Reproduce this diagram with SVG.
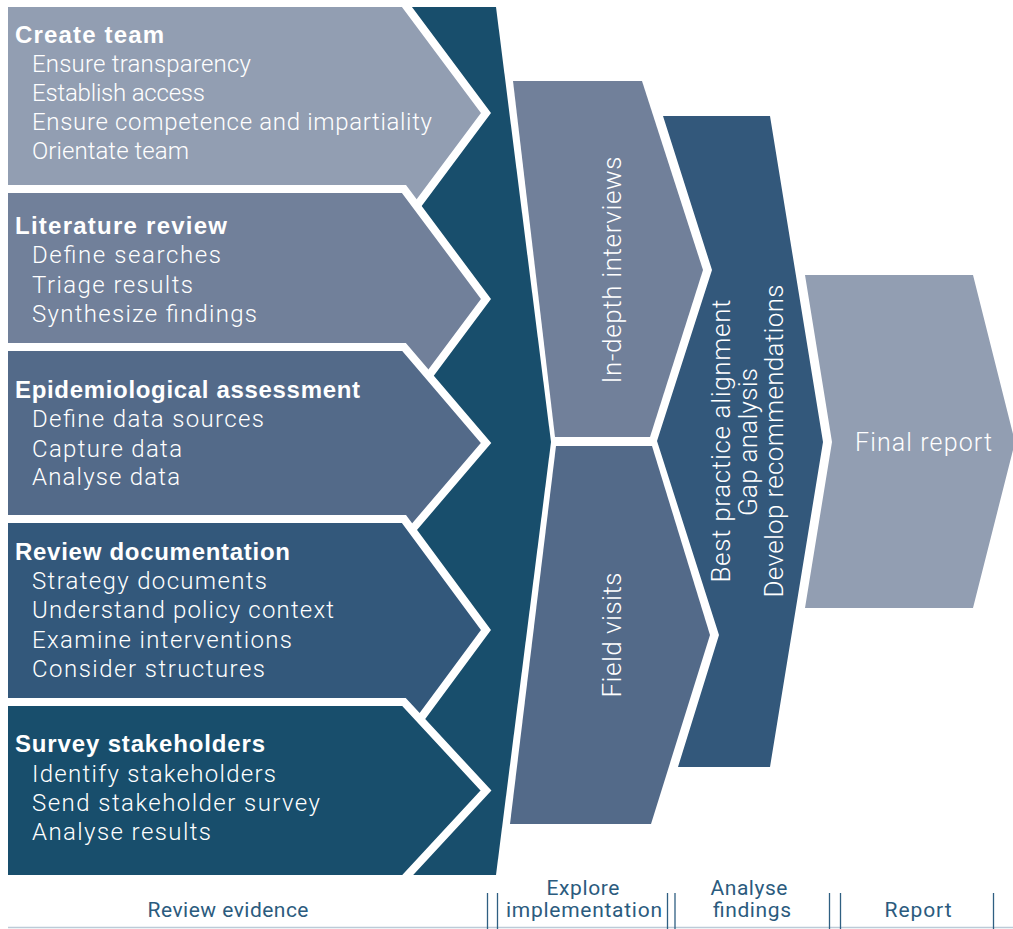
<svg xmlns="http://www.w3.org/2000/svg" width="1013" height="929" viewBox="0 0 1013 929">
<style>
.chev{stroke:#ffffff;stroke-width:8;stroke-linejoin:miter;stroke-miterlimit:10}
.hd{font-family:'Liberation Sans',Arial,sans-serif;font-weight:700;font-size:24px;fill:#ffffff}
.it{font-family:Roboto,'Liberation Sans',Arial,sans-serif;font-weight:300;font-size:24px;fill:#ffffff}
.vt{font-family:Roboto,'Liberation Sans',Arial,sans-serif;font-weight:300;font-size:26px;fill:#ffffff;text-anchor:middle}
.fr{font-family:Roboto,'Liberation Sans',Arial,sans-serif;font-weight:300;font-size:25px;fill:#ffffff}
.lb{font-family:Roboto,'Liberation Sans',Arial,sans-serif;font-weight:400;font-size:21px;fill:#2b5b7e;text-anchor:middle}
.c1{fill:#929eb2}.c2{fill:#71809a}.c3{fill:#536a89}.c4{fill:#33587b}.c5{fill:#184e6c}
.sep{stroke:#2f5f82;stroke-width:1.3;fill:none}
.base{stroke:#bccbd8;stroke-width:1.5;fill:none}
</style>

<g id="review-evidence-band">
<polygon class="c5" points="300,7 496,7 551,442 496,875 300,875"/>
</g>

<g id="create-team">
<polygon class="chev c1" points="4,3 404,3 486,113 404,223 4,223"/>
<text class="hd" x="15" y="43" textLength="149">Create team</text>
<text class="it" x="32" y="72" textLength="219">Ensure transparency</text>
<text class="it" x="32" y="101" textLength="173">Establish access</text>
<text class="it" x="32" y="130" textLength="400">Ensure competence and impartiality</text>
<text class="it" x="32" y="159" textLength="157">Orientate team</text>
</g>

<g id="literature-review">
<polygon class="chev c2" points="4,189 404,189 486,299 404,409 4,409"/>
<text class="hd" x="15" y="234" textLength="212">Literature review</text>
<text class="it" x="32" y="263" textLength="189">Define searches</text>
<text class="it" x="32" y="293" textLength="161">Triage results</text>
<text class="it" x="32" y="322" textLength="225">Synthesize findings</text>
</g>

<g id="epidemiological-assessment">
<polygon class="chev c3" points="4,347 404,347 486,443 404,539 4,539"/>
<text class="hd" x="15" y="398" textLength="345">Epidemiological assessment</text>
<text class="it" x="32" y="427" textLength="232">Define data sources</text>
<text class="it" x="32" y="457" textLength="150">Capture data</text>
<text class="it" x="32" y="485" textLength="148">Analyse data</text>
</g>

<g id="review-documentation">
<polygon class="chev c4" points="4,519 404,519 486,630 404,741 4,741"/>
<text class="hd" x="15" y="560" textLength="275">Review documentation</text>
<text class="it" x="32" y="589" textLength="235">Strategy documents</text>
<text class="it" x="32" y="618" textLength="302">Understand policy context</text>
<text class="it" x="32" y="648" textLength="260">Examine interventions</text>
<text class="it" x="32" y="677" textLength="233">Consider structures</text>
</g>

<g id="survey-stakeholders">
<polygon class="chev c5" points="4,702 404,702 486,790.5 404,879 4,879"/>
<text class="hd" x="15" y="752" textLength="250">Survey stakeholders</text>
<text class="it" x="32" y="782" textLength="244">Identify stakeholders</text>
<text class="it" x="32" y="811" textLength="288">Send stakeholder survey</text>
<text class="it" x="32" y="840" textLength="179">Analyse results</text>
</g>

<g id="in-depth-interviews">
<polygon class="c2" points="513,81 642,81 703,270 650,437 555,437"/>
<text class="vt" transform="translate(621,270) rotate(-90)" textLength="227">In-depth interviews</text>
</g>

<g id="field-visits">
<polygon class="c3" points="556,446 652,446 710,635 651,824 510,824"/>
<text class="vt" transform="translate(621,635) rotate(-90)" textLength="125">Field visits</text>
</g>

<g id="analyse">
<polygon class="c4" points="663,116 770,116 823,442 770,767 678,767 719,635 657,441 712,270"/>
<text class="vt" transform="translate(730,441) rotate(-90)" textLength="283">Best practice alignment</text>
<text class="vt" transform="translate(757,442) rotate(-90)" textLength="148">Gap analysis</text>
<text class="vt" transform="translate(783,441) rotate(-90)" textLength="313">Develop recommendations</text>
</g>

<g id="final-report">
<polygon class="c1" points="805,275 973,275 1015,442 973,608 805,608 832,442"/>
<text class="fr" x="855" y="451" textLength="137">Final report</text>
</g>

<g id="phases">
<line class="base" x1="8" y1="927.5" x2="1013" y2="927.5"/>
<line class="sep" x1="487.5" y1="893" x2="487.5" y2="929"/>
<line class="sep" x1="497.5" y1="893" x2="497.5" y2="929"/>
<line class="sep" x1="667.5" y1="893" x2="667.5" y2="929"/>
<line class="sep" x1="675" y1="893" x2="675" y2="929"/>
<line class="sep" x1="829.5" y1="893" x2="829.5" y2="929"/>
<line class="sep" x1="840.5" y1="893" x2="840.5" y2="929"/>
<line class="sep" x1="993.5" y1="893" x2="993.5" y2="929"/>
<text class="lb" x="228" y="917" textLength="161">Review evidence</text>
<text class="lb" x="583" y="895" textLength="73">Explore</text>
<text class="lb" x="584" y="917" textLength="156">implementation</text>
<text class="lb" x="749" y="895" textLength="77">Analyse</text>
<text class="lb" x="752" y="917" textLength="78">findings</text>
<text class="lb" x="918" y="917" textLength="67">Report</text>
</g>
</svg>
